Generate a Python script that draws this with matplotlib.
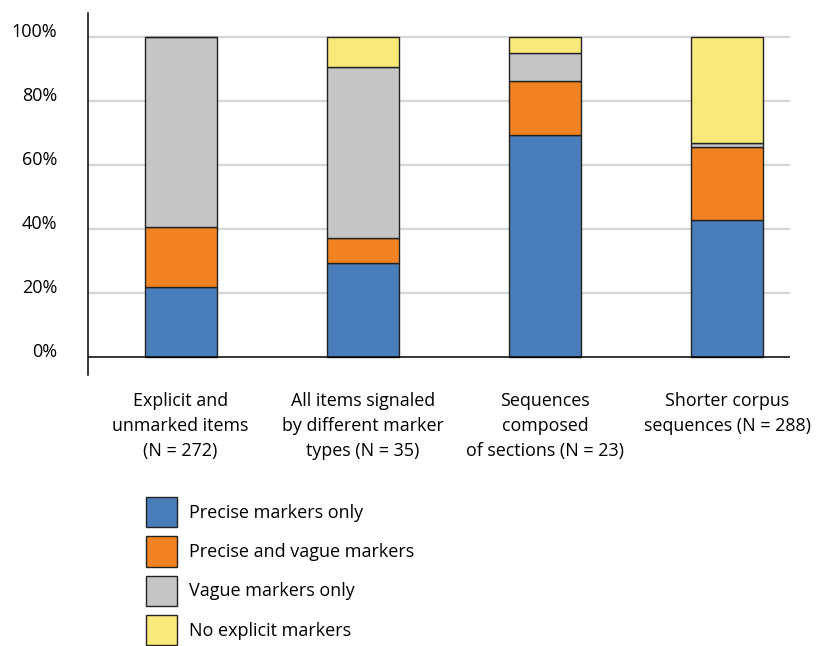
import matplotlib.pyplot as plt
import numpy as np

plt.rcParams['font.family'] = ['Open Sans', 'DejaVu Sans']

# share of items per group, in percent
groups = ['Explicit and\nunmarked items\n(N = 272)',
          'All items signaled\nby different marker\ntypes (N = 35)',
          'Sequences\ncomposed\nof sections (N = 23)',
          'Shorter corpus\nsequences (N = 288)']
precise_only = [21.9, 29.6, 69.5, 42.9]
precise_vague = [18.8, 7.8, 16.9, 22.8]
vague_only = [59.3, 53.3, 8.8, 1.4]
no_markers = [0.0, 9.3, 4.8, 32.9]

series = [
    ('Precise markers only', precise_only, '#4a7ebb'),
    ('Precise and vague markers', precise_vague, '#f28322'),
    ('Vague markers only', vague_only, '#c4c5c4'),
    ('No explicit markers', no_markers, '#f8ea7a'),
]
ticks = [0, 20, 40, 60, 80, 100]

fig = plt.figure(figsize=(8.16, 6.46), dpi=100)
ax = fig.add_axes([88 / 816, 271 / 646, 702 / 816, 362 / 646])

x = np.arange(len(groups))
bottom = np.zeros(len(groups))
for label, vals, color in series:
    vals = np.array(vals)
    ax.bar(x, vals, 0.395, bottom=bottom, color=color, edgecolor='#222222',
           linewidth=1.0, label=label, zorder=3)
    bottom += vals

for t in ticks[1:]:
    ax.axhline(t, color='#d6d6d6', lw=1.6, zorder=1)
ax.axhline(0, color='black', lw=1.1, zorder=4)

ax.set_xlim(-0.5085, 3.343)
ax.set_ylim(-5.53, 107.6)

for side in ['top', 'right', 'bottom']:
    ax.spines[side].set_visible(False)
ax.spines['left'].set_linewidth(1.1)

ax.set_yticks(ticks)
ax.set_yticklabels([f'{t}%' for t in ticks], fontsize=13, va='baseline')
ax.tick_params(axis='y', length=0, pad=22)

ax.set_xticks(x)
ax.set_xticklabels(groups, fontsize=12.9, linespacing=1.5)
ax.tick_params(axis='x', length=0, pad=12)

fig.legend(loc='upper left', bbox_to_anchor=(146 / 816, 1 - 497 / 646),
           frameon=False, fontsize=13, borderpad=0, borderaxespad=0,
           handlelength=1.7, handleheight=2.2, labelspacing=0.5,
           handletextpad=0.7)

fig.savefig('out.png', dpi=100)
